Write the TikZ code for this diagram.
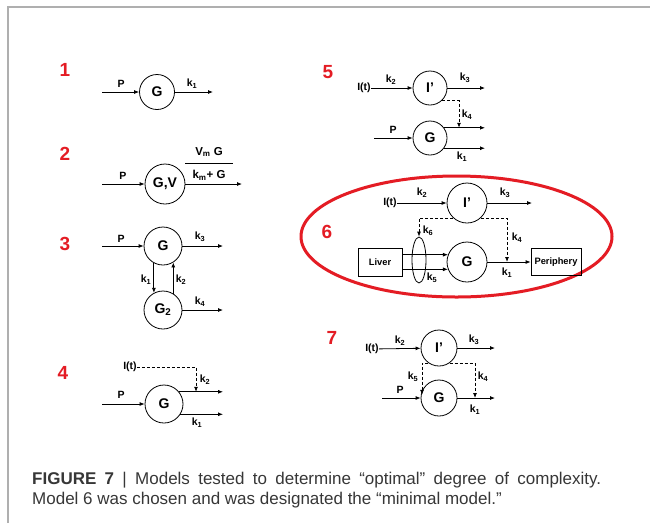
\documentclass[tikz,border=0pt]{standalone}
\usepackage{fontspec}
\setmainfont{Liberation Sans}
\usetikzlibrary{arrows.meta,shapes.geometric}
\definecolor{figred}{RGB}{228,28,36}
\definecolor{capgray}{RGB}{55,55,55}
\definecolor{framegray}{RGB}{175,175,175}
\begin{document}
\begin{tikzpicture}[x=1pt,y=-1pt,
  comp/.style={circle,draw,line width=0.8pt,minimum size=#1,inner sep=0pt,font=\fontsize{14}{14}\selectfont\bfseries},
  comp/.default=35pt,
  arr/.style={-{Latex[length=5pt,width=4pt]},line width=0.8pt},
  darr/.style={arr,dash pattern=on 3pt off 2pt},
  lab/.style={font=\fontsize{10.5}{10.5}\selectfont\bfseries,inner sep=0pt},
  num/.style={font=\fontsize{19}{19}\selectfont\bfseries,text=figred,inner sep=0pt},
  boxn/.style={draw,line width=0.8pt,inner sep=0pt,font=\fontsize{9.3}{9.3}\selectfont\bfseries},
  capt/.style={anchor=base west,inner sep=0pt,text=capgray,font=\fontsize{17}{20}\selectfont},
]
\useasboundingbox (0,0) rectangle (650,523);
\fill[white] (0,0) rectangle (650,523);
\coordinate (fb) at (8,523); \coordinate (fc) at (8,7); \coordinate (fe) at (650,7);
\draw[framegray,line width=1.5pt] (fb) -- (fc) -- (fe);

% ---------- Model 1
\node[num] (n1) at (65,70) {1};
\node[comp=35pt] (g1) at (157,92) {G};
\coordinate (p1) at (102,92);
\coordinate (o1) at (213,92);
\draw[arr] (p1) -- (g1);
\draw[arr] (g1) -- (o1);
\node[lab] (lp1) at (121,84) {P};
\node[lab] (lk1) at (192,84) {k\textsubscript{1}};

% ---------- Model 2
\node[num] (n2) at (65,154) {2};
\node[comp=40pt] (g2) at (165,184) {G,V};
\coordinate (p2) at (102,184);
\coordinate (o2) at (242,184);
\draw[arr] (p2) -- (g2);
\draw[arr] (g2) -- (o2);
\node[lab] (lp2) at (123,176) {P};
\node[lab,font=\fontsize{11.5}{11.5}\selectfont\bfseries] (vm) at (209,152) {V\textsubscript{m} G};
\node[lab,font=\fontsize{11.5}{11.5}\selectfont\bfseries] (km) at (209,175) {k\textsubscript{m}+ G};
\coordinate (fl) at (185,163); \coordinate (fr2) at (233,163);
\draw[line width=0.9pt] (fl) -- (fr2);

% ---------- Model 3
\node[num] (n3) at (65,244) {3};
\node[comp=38pt] (g3) at (163,246) {G};
\node[comp=38pt] (g3b) at (163,310) {G\textsubscript{2}};
\coordinate (p3) at (102,246); \coordinate (o3) at (223,246); \coordinate (o3b) at (223,310);
\draw[arr] (p3) -- (g3);
\draw[arr] (g3) -- (o3);
\draw[arr] (g3b) -- (o3b);
\draw[arr] (g3.-118) -- (g3b.118);
\draw[arr] (g3b.58) -- (g3.-58);
\node[lab] (lp3) at (121,239) {P};
\node[lab] (lk33) at (200,237) {k\textsubscript{3}};
\node[lab] (lk34) at (200,302) {k\textsubscript{4}};
\node[lab] (lk31) at (146,280) {k\textsubscript{1}};
\node[lab] (lk32) at (181,280) {k\textsubscript{2}};

% ---------- Model 4
\node[num] (n4) at (63,373) {4};
\node[comp=38pt] (g4) at (164,404) {G};
\node[lab] (it4) at (130,367) {I(t)};
\coordinate (c4) at (196,367);
\coordinate (e4) at (223,0);
\coordinate (p4) at (102,404);
\draw[arr] (p4) -- (g4);
\draw[arr] (g4.39) -- (g4.39 -| e4);
\draw[arr] (g4.-32) -- (g4.-32 -| e4);
\draw[darr] (it4.east) -- (c4) -- (c4 |- g4.39);
\node[lab] (lk42) at (205,380) {k\textsubscript{2}};
\node[lab] (lk41) at (197,423) {k\textsubscript{1}};
\node[lab] (lp4) at (121,395) {P};

% ---------- Model 5
\node[num] (n5) at (328,72) {5};
\node[comp=34pt] (i5) at (430,88) {I’};
\node[comp=34pt] (g5) at (430,138) {G};
\node[lab] (it5) at (364,88) {I(t)};
\coordinate (o5) at (485,88); \coordinate (e5) at (485,0); \coordinate (c5) at (459,0); \coordinate (p5) at (374,138);
\draw[arr] (it5) -- (i5);
\draw[arr] (i5) -- (o5);
\draw[arr] (p5) -- (g5);
\draw[arr] (g5.36) -- (g5.36 -| e5);
\draw[arr] (g5.-36) -- (g5.-36 -| e5);
\draw[darr] (i5.-45) -- (i5.-45 -| c5) -- (c5 |- g5.36);
\node[lab] (lk52) at (391,80) {k\textsubscript{2}};
\node[lab] (lk53) at (465,78) {k\textsubscript{3}};
\node[lab] (lk54) at (467,115) {k\textsubscript{4}};
\node[lab] (lk51) at (462,157) {k\textsubscript{1}};
\node[lab] (lp5) at (393,130) {P};

% ---------- Model 6
\node[ellipse,draw=figred,line width=3pt,minimum width=311pt,minimum height=121pt,inner sep=0pt] (ring) at (456.5,236.5) {};
\node[num] (n6) at (327,232) {6};
\node[comp=40pt] (i6) at (467,203) {I’};
\node[comp=40pt] (g6) at (467,262) {G};
\node[lab] (it6) at (390,203) {I(t)};
\node[boxn,minimum width=44pt,minimum height=28pt] (liver) at (380,262) {Liver};
\node[boxn,minimum width=50pt,minimum height=27pt] (peri) at (556,262) {Periphery};
\node[ellipse,draw,line width=0.8pt,minimum width=14pt,minimum height=46pt,inner sep=0pt] (ov) at (419,260) {};
\coordinate (o6) at (532,203); \coordinate (c6) at (507,0);
\draw[arr] (it6) -- (i6);
\draw[arr] (i6) -- (o6);
\draw[arr] (g6.159 -| liver.east) -- (g6.159);
\draw[arr] (g6.-159 -| liver.east) -- (g6.-159);
\draw[arr] (g6) -- (peri);
\draw[darr] (i6.-133) -- (i6.-133 -| ov.north) -- (ov.north);
\draw[darr] (i6.-47) -- (i6.-47 -| c6) -- (c6 |- g6.east);
\node[lab] (lk62) at (422,193) {k\textsubscript{2}};
\node[lab] (lk63) at (505,193) {k\textsubscript{3}};
\node[lab] (lk66) at (428,231) {k\textsubscript{6}};
\node[lab] (lk64) at (517,238) {k\textsubscript{4}};
\node[lab] (lk65) at (432,278) {k\textsubscript{5}};
\node[lab] (lk61) at (507,273) {k\textsubscript{1}};

% ---------- Model 7
\node[num] (n7) at (332,338) {7};
\node[comp=36pt] (i7) at (439,348) {I’};
\node[comp=36pt] (g7) at (439,398) {G};
\node[lab] (it7) at (372,349) {I(t)};
\coordinate (o7) at (495,348); \coordinate (q7) at (495,398); \coordinate (p7) at (382,398);
\coordinate (c7r) at (475,0); \coordinate (c7l) at (422,0);
\draw[arr] (it7) -- (i7);
\draw[arr] (i7) -- (o7);
\draw[arr] (p7) -- (g7);
\draw[arr] (g7) -- (q7);
\draw[darr] (i7.-55) -- (i7.-55 -| c7r) -- (c7r |- g7.east);
\draw[darr] (i7.-125) -- (i7.-125 -| c7l) -- (c7l |- g7.170);
\node[lab] (lk72) at (400,341) {k\textsubscript{2}};
\node[lab] (lk73) at (474,340) {k\textsubscript{3}};
\node[lab] (lk75) at (413,377) {k\textsubscript{5}};
\node[lab] (lk74) at (483,377) {k\textsubscript{4}};
\node[lab] (lk71) at (475,410) {k\textsubscript{1}};
\node[lab] (lp7) at (400,390) {P};

% ---------- Caption
\node[capt] (cap1) at (32,484) {\makebox[569pt][s]{\textbf{FIGURE 7} | Models tested to determine “optimal” degree of complexity.}};
\node[capt] (cap2) at (32,504) {Model 6 was chosen and was designated the “minimal model.”};
\end{tikzpicture}
\end{document}
